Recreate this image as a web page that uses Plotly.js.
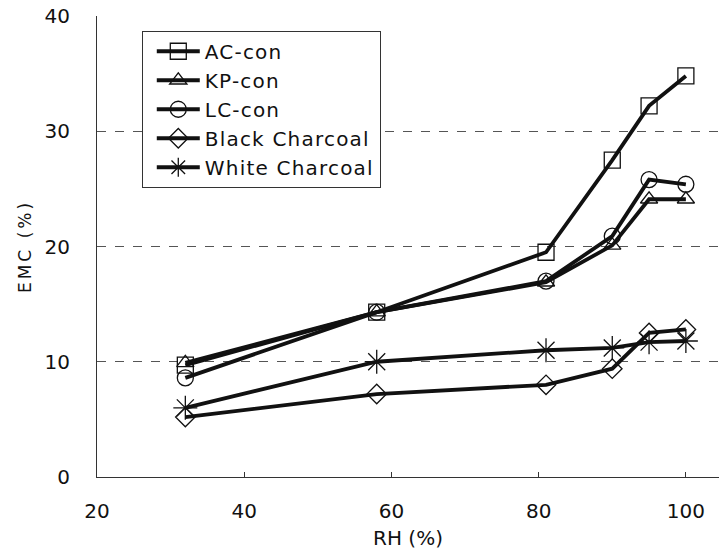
<!DOCTYPE html>
<html>
<head>
<meta charset="utf-8">
<script src="https://cdn.plot.ly/plotly-3.0.1.min.js"></script>
<style>
html,body{margin:0;padding:0;background:#fff;}
#chart{width:719px;height:555px;}
.legendtext{letter-spacing:1.2px;}
.ytitle{letter-spacing:3px;}
</style>
</head>
<body>
<div id="chart"></div>
<script>
const rh = [32, 58, 81, 90, 95, 100];
const acCon = [9.7, 14.3, 19.5, 27.5, 32.2, 34.8];
const kpCon = [9.9, 14.3, 16.9, 20.1, 24.1, 24.1];
const lcCon = [8.6, 14.3, 17.0, 20.9, 25.8, 25.4];
const blackCharcoal = [5.2, 7.2, 8.0, 9.4, 12.5, 12.8];
const whiteCharcoal = [6.0, 10.0, 11.0, 11.2, 11.7, 11.8];

const seriesNames = ['AC-con', 'KP-con', 'LC-con', 'Black Charcoal', 'White Charcoal'];
const seriesData = [acCon, kpCon, lcCon, blackCharcoal, whiteCharcoal];
const symbols = ['square-open', 'triangle-up-open', 'circle-open', 'diamond-open', 'asterisk-open'];
const sizes = [16, 15, 16, 15, 20];

const traces = seriesNames.map((n, i) => ({
  x: rh, y: seriesData[i], name: n, type: 'scatter', mode: 'lines+markers',
  line: {color: '#111', width: 3.8},
  marker: {symbol: symbols[i], size: sizes[i], color: '#111', line: {color: '#111', width: 1.3}}
}));

const layout = {
  width: 719, height: 555,
  margin: {l: 97, r: 0, t: 16, b: 78},
  paper_bgcolor: '#fff', plot_bgcolor: '#fff',
  font: {family: 'DejaVu Sans, sans-serif', color: '#111'},
  showlegend: true,
  legend: {
    x: 0.072, y: 0.968, xanchor: 'left', yanchor: 'top',
    bordercolor: '#333', borderwidth: 1, bgcolor: '#fff',
    font: {size: 20, color: '#111'}, itemwidth: 43, indentation: 9, tracegroupgap: 0
  },
  xaxis: {
    range: [20, 104.5], tickvals: [20, 40, 60, 80, 100],
    ticks: 'inside', ticklen: 5, tickcolor: '#333',
    showline: true, linecolor: '#333', linewidth: 1,
    showgrid: false, zeroline: false,
    tickfont: {size: 20}, ticklabelstandoff: 16,
    title: {text: 'RH (%)', font: {size: 20}, standoff: 8}
  },
  yaxis: {
    range: [0, 40], tickvals: [0, 10, 20, 30, 40],
    ticks: '', showline: true, linecolor: '#333', linewidth: 1,
    showgrid: true, gridcolor: '#555', griddash: 'dash', gridwidth: 1,
    zeroline: false,
    tickfont: {size: 20}, ticklabelstandoff: 22,
    title: {text: 'EMC (%)', font: {size: 17}, standoff: 8}
  }
};

Plotly.newPlot('chart', traces, layout, {displayModeBar: false, staticPlot: true});
</script>
</body>
</html>
